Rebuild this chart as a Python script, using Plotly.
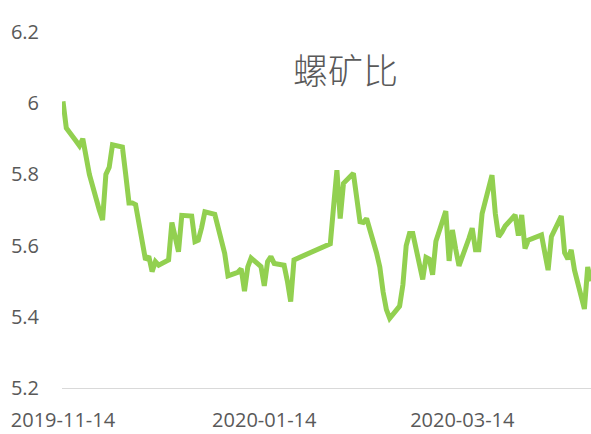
import plotly.graph_objects as go

dates = [
    "2019-11-14", "2019-11-15", "2019-11-18", "2019-11-19", "2019-11-20", "2019-11-21", "2019-11-22",
    "2019-11-25", "2019-11-26", "2019-11-27", "2019-11-28", "2019-11-29",
    "2019-12-02", "2019-12-03", "2019-12-04", "2019-12-05", "2019-12-06",
    "2019-12-09", "2019-12-10", "2019-12-11", "2019-12-12", "2019-12-13",
    "2019-12-16", "2019-12-17", "2019-12-18", "2019-12-19", "2019-12-20",
    "2019-12-23", "2019-12-24", "2019-12-25", "2019-12-26", "2019-12-27",
    "2019-12-30", "2019-12-31", "2020-01-02", "2020-01-03",
    "2020-01-06", "2020-01-07", "2020-01-08", "2020-01-09", "2020-01-10",
    "2020-01-13", "2020-01-14", "2020-01-15", "2020-01-16", "2020-01-17",
    "2020-01-20", "2020-01-21", "2020-01-22", "2020-01-23",
    "2020-02-03", "2020-02-04", "2020-02-05", "2020-02-06", "2020-02-07",
    "2020-02-10", "2020-02-11", "2020-02-12", "2020-02-13", "2020-02-14",
    "2020-02-17", "2020-02-18", "2020-02-19", "2020-02-20", "2020-02-21",
    "2020-02-24", "2020-02-25", "2020-02-26", "2020-02-27", "2020-02-28",
    "2020-03-02", "2020-03-03", "2020-03-04", "2020-03-05", "2020-03-06",
    "2020-03-09", "2020-03-10", "2020-03-11", "2020-03-12", "2020-03-13",
    "2020-03-16", "2020-03-17", "2020-03-18", "2020-03-19", "2020-03-20",
    "2020-03-23", "2020-03-24", "2020-03-25", "2020-03-26", "2020-03-27",
    "2020-03-30", "2020-03-31", "2020-04-01", "2020-04-02", "2020-04-03",
    "2020-04-07", "2020-04-08", "2020-04-09", "2020-04-10",
    "2020-04-13", "2020-04-14", "2020-04-15", "2020-04-16", "2020-04-17",
    "2020-04-20", "2020-04-21", "2020-04-22",
]

ratio = [
    6.005, 5.93, 5.893, 5.88, 5.90, 5.84, 5.80,
    5.70, 5.672, 5.80, 5.82, 5.883,
    5.877, 5.80, 5.72, 5.72, 5.715,
    5.56, 5.57, 5.527, 5.555, 5.545,
    5.56, 5.665, 5.62, 5.583, 5.685,
    5.683, 5.611, 5.615, 5.65, 5.695,
    5.688, 5.65, 5.578, 5.515,
    5.525, 5.535, 5.472, 5.54, 5.565,
    5.541, 5.487, 5.555, 5.569, 5.55,
    5.545, 5.50, 5.443, 5.56,
    5.605, 5.71, 5.812, 5.676, 5.775,
    5.803, 5.73, 5.667, 5.665, 5.676,
    5.58, 5.54, 5.47, 5.42, 5.396,
    5.43, 5.49, 5.60, 5.634, 5.634,
    5.505, 5.567, 5.562, 5.518, 5.612,
    5.697, 5.557, 5.644, 5.59, 5.543,
    5.62, 5.649, 5.588, 5.588, 5.69,
    5.798, 5.69, 5.625, 5.638, 5.655,
    5.686, 5.628, 5.686, 5.592, 5.615,
    5.63, 5.58, 5.531, 5.625,
    5.683, 5.58, 5.562, 5.588, 5.531,
    5.422, 5.54, 5.50,
]

x_tick_vals = ["2019-11-14", "2020-01-14", "2020-03-14"]
x_tick_text = ["2019-11-14", "2020-01-14", "2020-03-14"]
y_tick_vals = [5.2, 5.4, 5.6, 5.8, 6.0, 6.2]
y_tick_text = ["5.2", "5.4", "5.6", "5.8", "6", "6.2"]
title_text = "螺矿比"

fig = go.Figure()
fig.add_trace(go.Scatter(
    x=dates, y=ratio, mode="lines",
    line=dict(color="#92D050", width=5),
    hoverinfo="skip", showlegend=False,
))

tick_font = dict(family="Open Sans, Liberation Sans, sans-serif", size=20, color="#595959")

fig.update_layout(
    width=591, height=434,
    margin=dict(l=62, r=0, t=32, b=46),
    paper_bgcolor="white", plot_bgcolor="white",
    showlegend=False,
    xaxis=dict(
        type="date",
        range=["2019-11-13 16:48", "2020-04-22 00:00"],
        tickvals=x_tick_vals, ticktext=x_tick_text,
        showgrid=False, zeroline=False,
        showline=True, linecolor="#D9D9D9", linewidth=1,
        ticks="", ticklabelstandoff=14,
        tickfont=tick_font, automargin=False,
    ),
    yaxis=dict(
        range=[5.2, 6.2],
        tickvals=y_tick_vals, ticktext=y_tick_text,
        showgrid=False, zeroline=False, showline=False,
        ticks="", ticklabelstandoff=22,
        tickfont=tick_font, automargin=False,
    ),
    annotations=[dict(
        text=title_text, xref="paper", yref="paper",
        x=0.535, y=0.897, xanchor="center", yanchor="middle",
        showarrow=False,
        font=dict(family="Noto Sans CJK SC", size=35, color="#595959", weight=300),
    )],
)

fig.write_html(
    "out.html",
    config={"displayModeBar": False},
    post_script="document.body.style.margin='0';document.body.style.overflow='hidden';",
)
